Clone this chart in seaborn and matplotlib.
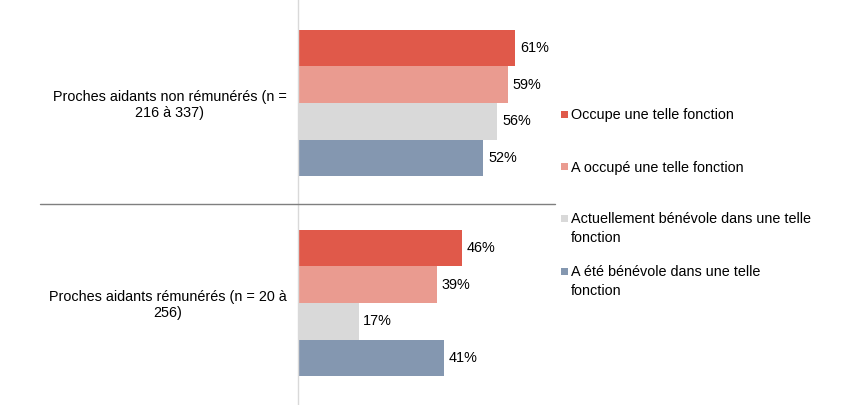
import matplotlib
matplotlib.use("Agg")
import matplotlib.pyplot as plt
import seaborn as sns
import pandas as pd
from matplotlib.lines import Line2D
from matplotlib.patches import Rectangle

groups = ["Proches aidants non rémunérés (n =\n216 à 337)",
          "Proches aidants rémunérés (n = 20 à\n256)"]
series = ["Occupe une telle fonction",
          "A occupé une telle fonction",
          "Actuellement bénévole dans une telle\nfonction",
          "A été bénévole dans une telle\nfonction"]
values_non_remun = [61, 59, 56, 52]
values_remun = [46, 39, 17, 41]
colors = ["#E0594A", "#EA9B90", "#D9D9D9", "#8497B0"]

rows = []
for g, vals in zip(groups, [values_non_remun, values_remun]):
    for s, v in zip(series, vals):
        rows.append({"group": g, "serie": s, "value": v})
df = pd.DataFrame(rows)

sns.set_style("white")
plt.rcParams['font.family'] = ['Liberation Sans', 'DejaVu Sans']

W, H = 864, 405
fig = plt.figure(figsize=(W / 100, H / 100), dpi=100)
ax = fig.add_axes([298 / W, 0, (555 - 298) / W, 1])

sns.barplot(data=df, y="group", x="value", hue="serie", hue_order=series,
            order=groups, palette=colors, saturation=1, width=0.734,
            orient="h", linewidth=0, ax=ax, legend=False)

ax.set_xlim(0, 72.2)
ax.set_ylim(1.51, -0.515)
for c in ax.containers:
    ax.bar_label(c, fmt="%d%%", padding=3.5, fontsize=10.4, color="black")

for sp in ["top", "right", "bottom"]:
    ax.spines[sp].set_visible(False)
ax.spines["left"].set_color("#D9D9D9")
ax.spines["left"].set_linewidth(1)
ax.set_xticks([])
ax.set_xlabel("")
ax.set_ylabel("")
ax.tick_params(axis="y", length=0, pad=8, labelsize=10.4, labelcolor="black")
for t in ax.get_yticklabels():
    t.set_multialignment("center")
    t.set_linespacing(1.1)

# separator between the groups
ysep = 1 - 204 / H
fig.add_artist(Line2D([40 / W, 555 / W], [ysep, ysep], color="#7F7F7F", lw=1))

# legend (marker aligned with first line of each entry)
legend_first_line_y = [114, 167, 218, 271]
line_step = 19
for lab, col, yc in zip(series, colors, legend_first_line_y):
    fig.add_artist(Rectangle((561 / W, 1 - (yc + 3.5) / H), 7 / W, 7 / H,
                             transform=fig.transFigure, facecolor=col,
                             edgecolor="none"))
    for k, line in enumerate(lab.split("\n")):
        yb = yc + k * line_step + 5
        fig.text(571 / W, 1 - yb / H, line, fontsize=10.4, color="black",
                 ha="left", va="baseline")

fig.savefig("out.png", dpi=100)
